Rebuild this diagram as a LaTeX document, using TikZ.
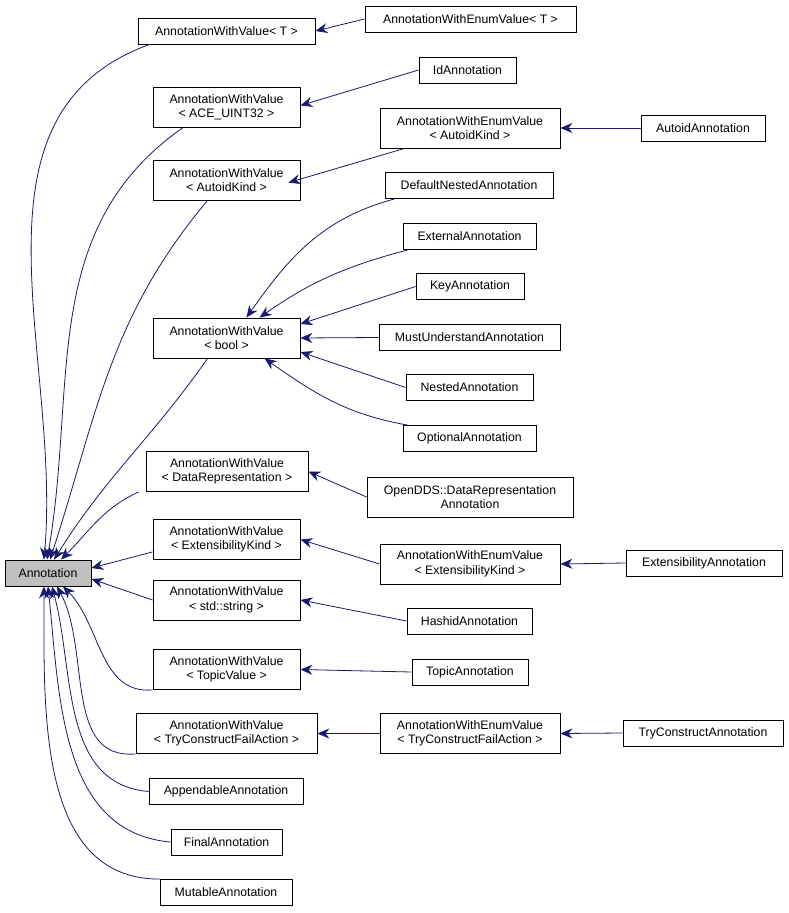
\documentclass[tikz,border=0pt]{standalone}
\usepackage{fontspec}
\setmainfont{Liberation Sans}
\usetikzlibrary{arrows.meta}
\definecolor{edgec}{HTML}{191970}
\begin{document}
\begin{tikzpicture}[x=1pt,y=-1pt,
 box/.style={draw=black,fill=white,line width=0.8pt,align=center,inner sep=0pt,font=\fontsize{12.3}{14.5}\selectfont,minimum height=26pt},
 two/.style={minimum height=40pt},
 inh/.style={draw=edgec,line width=0.8pt,{Stealth[length=12pt,width=10pt]}-}]
\useasboundingbox (0,0) rectangle (789,913);
\node[box,fill={rgb,255:red,191;green,191;blue,191},minimum width=86pt] (A) at (48,573) {Annotation};
\node[box,minimum width=177pt] (T) at (226.5,31) {AnnotationWithValue< T >};
\node[box,minimum width=211pt] (ET) at (470.5,19) {AnnotationWithEnumValue< T >};
\node[box,two,minimum width=147pt] (ACE) at (226.5,107.5) {AnnotationWithValue\\< ACE\_UINT32 >};
\node[box,minimum width=97pt] (Id) at (467.5,70) {IdAnnotation};
\node[box,two,minimum width=180pt] (EAK) at (470,128) {AnnotationWithEnumValue\\< AutoidKind >};
\node[box,minimum width=124pt] (Aut) at (703,128) {AutoidAnnotation};
\node[box,two,minimum width=147pt] (AK) at (226.5,180) {AnnotationWithValue\\< AutoidKind >};
\node[box,minimum width=168pt] (DN) at (469,185.5) {DefaultNestedAnnotation};
\node[box,minimum width=133pt] (Ex) at (469.5,236.5) {ExternalAnnotation};
\node[box,minimum width=108pt] (Key) at (470,286.5) {KeyAnnotation};
\node[box,minimum width=181pt] (MU) at (469.5,337.5) {MustUnderstandAnnotation};
\node[box,minimum width=127pt] (Ne) at (469.5,387.5) {NestedAnnotation};
\node[box,minimum width=133pt] (Op) at (469.5,438.5) {OptionalAnnotation};
\node[box,two,minimum width=147pt] (B) at (226.5,338) {AnnotationWithValue\\< bool >};
\node[box,two,minimum width=162pt] (DR) at (227,471.5) {AnnotationWithValue\\< DataRepresentation >};
\node[box,two,minimum width=206pt] (OD) at (470,497) {OpenDDS::DataRepresentation\\Annotation};
\node[box,two,minimum width=147pt] (EK) at (226.5,539.5) {AnnotationWithValue\\< ExtensibilityKind >};
\node[box,two,minimum width=180pt] (EEK) at (470,564) {AnnotationWithEnumValue\\< ExtensibilityKind >};
\node[box,minimum width=156pt] (ExA) at (704,563) {ExtensibilityAnnotation};
\node[box,two,minimum width=147pt] (S) at (226.5,600) {AnnotationWithValue\\< std::string >};
\node[box,minimum width=125pt] (H) at (469.5,621) {HashidAnnotation};
\node[box,two,minimum width=147pt] (TV) at (226.5,669.5) {AnnotationWithValue\\< TopicValue >};
\node[box,minimum width=116pt] (TA) at (470,672) {TopicAnnotation};
\node[box,two,minimum width=181pt] (TC) at (226.5,733.5) {AnnotationWithValue\\< TryConstructFailAction >};
\node[box,two,minimum width=180pt] (ETC) at (470,733.5) {AnnotationWithEnumValue\\< TryConstructFailAction >};
\node[box,minimum width=160pt] (TCA) at (703,733) {TryConstructAnnotation};
\node[box,minimum width=154pt] (Ap) at (226,791.5) {AppendableAnnotation};
\node[box,minimum width=111pt] (Fi) at (226.5,842) {FinalAnnotation};
\node[box,minimum width=132pt] (Mu) at (226,892.5) {MutableAnnotation};
% edges
\draw[inh] (T.east) -- (ET.west);
\draw[inh] ([yshift=2pt]ACE.east) -- (Id.west);
\draw[inh] (AK.north east) ++(-12,23) -- ([xshift=25pt]EAK.south west);
\draw[inh] (EAK.east) -- (Aut.west);
\draw[inh] ([xshift=20pt]B.north) to[out=55,in=195] ([xshift=10pt]DN.south west);
\draw[inh] ([xshift=33pt]B.north) to[out=35,in=195] ([xshift=5pt]Ex.south west);
\draw[inh] ([yshift=14pt]B.east) -- (Key.west);
\draw[inh] (B.east) -- (MU.west);
\draw[inh] ([yshift=-14pt]B.east) -- (Ne.west);
\draw[inh] ([xshift=38pt]B.south) to[out=-35,in=170] ([xshift=5pt]Op.north west);
\draw[inh] (DR.east) -- (OD.west);
\draw[inh] (EK.east) -- (EEK.west);
\draw[inh] (EEK.east) -- (ExA.west);
\draw[inh] (S.east) -- (H.west);
\draw[inh] (TV.east) -- (TA.west);
\draw[inh] (TC.east) -- (ETC.west);
\draw[inh] (ETC.east) -- (TCA.west);
% from Annotation
\draw[inh] ([xshift=-4pt]A.north) to[out=85,in=200] ([xshift=12pt]T.south west);
\draw[inh] ([xshift=-1pt]A.north) to[out=80,in=215] ([xshift=30pt]ACE.south west);
\draw[inh] ([xshift=2pt]A.north) to[out=72,in=230] ([xshift=55pt]AK.south west);
\draw[inh] ([xshift=6pt]A.north) to[out=58,in=235] ([xshift=55pt]B.south west);
\draw[inh] ([xshift=13pt]A.north) to[out=45,in=205] ([xshift=-7pt]DR.south west);
\draw[inh] ([yshift=5pt]A.east) -- ([yshift=8pt]EK.south west);
\draw[inh] ([yshift=-6pt]A.east) -- (S.west);
\draw[inh] ([xshift=15pt]A.south) to[out=-45,in=185] (TV.south west);
\draw[inh] ([xshift=9pt]A.south) to[out=-62,in=185] (TC.south west);
\draw[inh] ([xshift=4pt]A.south) to[out=-75,in=175] (Ap.west);
\draw[inh] ([xshift=0pt]A.south) to[out=-84,in=175] (Fi.west);
\draw[inh] ([xshift=-4pt]A.south) to[out=-90,in=180] (Mu.north west);
\end{tikzpicture}
\end{document}
